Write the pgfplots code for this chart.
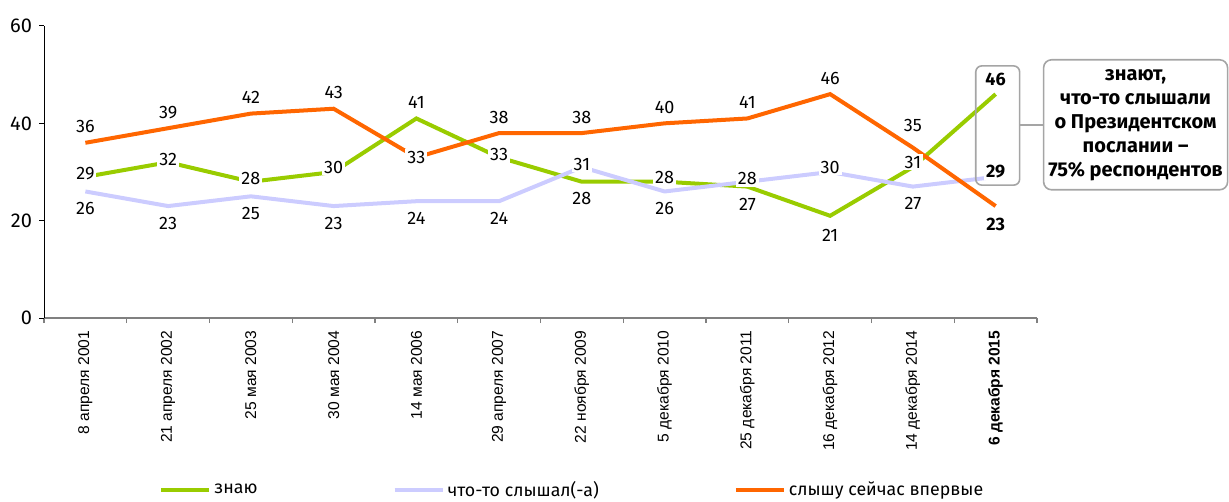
\documentclass[border=0pt]{standalone}
\usepackage{pgfplots}
\pgfplotsset{compat=1.18}
\usepackage{pgfplotstable}
\usepackage{fontspec}
\setmainfont{Fira Sans}
\newfontfamily\arialfont{Liberation Sans}
\usetikzlibrary{calc}
\definecolor{cg}{HTML}{99CC00}
\definecolor{cl}{HTML}{CCCCFF}
\definecolor{co}{HTML}{FF6600}
\definecolor{bx}{HTML}{A5A5A5}

% dy: vertical offset of the value label in pt (+ above, - below, ~0 on the line)
\pgfplotstableread{
x y lab dy
0 29 29 1.5
1 32 32 1.5
2 28 28 1.5
3 30 30 2.5
4 41 41 8
5 33 33 1.5
6 28 28 -8.5
7 28 28 2
8 27 27 -9
9 21 21 -10
10 31 31 2.5
11 46 \textbf{46} 7.5
}\znayu

\pgfplotstableread{
x y lab dy
0 26 26 -8.5
1 23 23 -8.5
2 25 25 -8.5
3 23 23 -8.5
4 24 24 -8.5
5 24 24 -8.5
6 31 31 1.5
7 26 26 -8.5
8 28 28 1.5
9 30 30 2.5
10 27 27 -8.5
11 29 \textbf{29} 2.5
}\slyshal

\pgfplotstableread{
x y lab dy
0 36 36 8
1 39 39 8
2 42 42 8
3 43 43 8
4 33 33 0
5 38 38 8
6 38 38 8
7 40 40 8
8 41 41 8
9 46 46 8
10 35 35 11
11 23 \textbf{23} -9
}\vpervye

\begin{document}
\begin{tikzpicture}
\begin{axis}[
  scale only axis, width=496.5pt, height=146pt,
  xmin=-0.5, xmax=11.5, ymin=0, ymax=60,
  axis x line=bottom, axis y line=left, axis line style={-},
  x axis line style={draw=gray, line width=1pt},
  y axis line style={draw=black, line width=0.5pt},
  tick align=outside,
  xtick={0,...,11},
  major x tick style={draw=none},
  minor xtick={-0.5,0.5,...,11.5},
  minor x tick style={draw=gray, line width=0.6pt},
  minor tick length=2.5pt,
  ytick={0,20,40,60},
  major tick length=2.5pt,
  y tick style={black, line width=0.5pt},
  y tick label style={font=\fontsize{10}{12}\selectfont},
  /pgf/number format/assume math mode=true,
  xticklabels={8 апреля 2001, 21 апреля 2002, 25 мая 2003, 30 мая 2004, 14 мая 2006, 29 апреля 2007, 22 ноября 2009, 5 декабря 2010, 25 декабря 2011, 16 декабря 2012, 14 декабря 2014, \textbf{6 декабря 2015}},
  x tick label style={rotate=90, anchor=east, font=\arialfont\fontsize{7.8}{9.4}\selectfont, xshift=-0.3pt},
  clip=false,
  legend columns=3,
  legend style={at={(0.1158,-0.589)}, anchor=west, draw=none, inner sep=0pt,
    font=\fontsize{8.9}{10.5}\selectfont,
    nodes={inner xsep=1.5pt},
    /tikz/every even column/.append style={column sep=66pt}},
  legend image code/.code={\draw[#1, line width=2pt] (0pt,0pt) -- (24pt,0pt);},
]
\addplot[cg, line width=2pt, forget plot, point meta=explicit symbolic, nodes near coords,
    visualization depends on={\thisrow{dy}\as\ldy},
    every node near coord/.append style={anchor=center, yshift=\ldy pt, fill=white, inner sep=1pt, text=black, font=\fontsize{9}{11}\selectfont}]
  table[x=x, y=y, meta=lab] {\znayu};
\addplot[cl, line width=2pt, forget plot, point meta=explicit symbolic, nodes near coords,
    visualization depends on={\thisrow{dy}\as\ldy},
    every node near coord/.append style={anchor=center, yshift=\ldy pt, fill=white, inner sep=1pt, text=black, font=\fontsize{9}{11}\selectfont}]
  table[x=x, y=y, meta=lab] {\slyshal};
\addplot[co, line width=2pt, forget plot, point meta=explicit symbolic, nodes near coords,
    visualization depends on={\thisrow{dy}\as\ldy},
    every node near coord/.append style={anchor=center, yshift=\ldy pt, fill=white, inner sep=1pt, text=black, font=\fontsize{9}{11}\selectfont}]
  table[x=x, y=y, meta=lab] {\vpervye};
\addlegendimage{cg, line width=2pt}
\addlegendentry{знаю}
\addlegendimage{cl, line width=2pt}
\addlegendentry{что-то слышал(-а)}
\addlegendimage{co, line width=2pt}
\addlegendentry{слышу сейчас впервые}

\draw[bx, rounded corners=3pt, line width=0.8pt] (axis cs:10.76,27.3) rectangle (axis cs:11.29,51.8);
\draw[bx, line width=0.8pt] (axis cs:11.29,39.7) -- (axis cs:11.57,39.7);
\node[draw=bx, rounded corners=4pt, line width=0.8pt, anchor=west, minimum width=92pt, minimum height=65pt, align=center, inner sep=1pt, font=\bfseries\fontsize{10}{12}\selectfont] at (axis cs:11.57,39.7) {знают,\\что-то слышали\\о Президентском\\послании –\\75\% респондентов};
\end{axis}
\pgfresetboundingbox
\path[use as bounding box] ($(current axis.south west)+(-22pt,-92pt)$) rectangle ($(current axis.south west)+(592.5pt,159pt)$);
\end{tikzpicture}
\end{document}
